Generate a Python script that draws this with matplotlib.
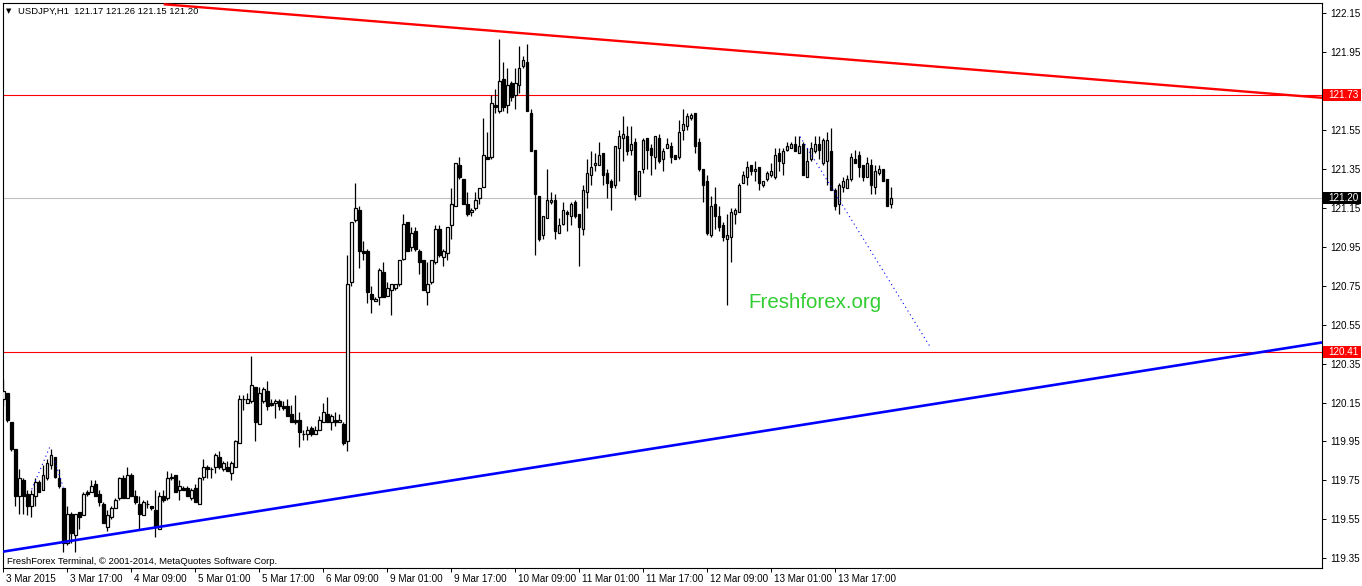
import matplotlib
matplotlib.use("Agg")
import matplotlib.pyplot as plt
import matplotlib.transforms as mtransforms
from matplotlib.patches import Rectangle
import numpy as np

# USDJPY H1 bars (open, high, low, close)
opens = [120.17, 120.20, 120.05, 119.91, 119.67, 119.75, 119.68, 119.62, 119.67, 119.74,
         119.70, 119.76, 119.83, 119.87, 119.76, 119.71, 119.43, 119.58, 119.47, 119.59,
         119.57, 119.69, 119.69, 119.73, 119.68, 119.63, 119.51, 119.56, 119.61, 119.66,
         119.76, 119.66, 119.78, 119.67, 119.63, 119.57, 119.63, 119.62, 119.60, 119.50,
         119.67, 119.66, 119.76, 119.78, 119.70, 119.71, 119.71, 119.66, 119.71, 119.63,
         119.77, 119.82, 119.81, 119.82, 119.87, 119.81, 119.82, 119.79, 119.82, 119.94,
         120.17, 120.15, 120.16, 120.23, 120.04, 120.16, 120.21, 120.15, 120.15, 120.16,
         120.13, 120.13, 120.09, 120.06, 120.06, 119.99, 119.99, 120.02, 119.99, 120.01,
         120.05, 120.09, 120.05, 120.06, 120.05, 120.04, 119.95, 120.77, 121.09, 121.14,
         120.93, 120.93, 120.71, 120.67, 120.69, 120.82, 120.70, 120.73, 120.74, 120.76,
         120.89, 121.08, 120.95, 121.03, 120.93, 120.88, 120.72, 120.77, 120.87, 121.04,
         120.90, 120.92, 121.06, 121.16, 121.37, 121.30, 121.17, 121.13, 121.15, 121.20,
         121.26, 121.41, 121.41, 121.68, 121.65, 121.81, 121.68, 121.79, 121.73, 121.78,
         121.88, 121.90, 121.64, 121.45, 121.21, 121.01, 121.10, 121.18, 121.19, 121.02,
         121.07, 121.13, 121.11, 121.18, 121.12, 121.04, 121.23, 121.32, 121.37, 121.37,
         121.43, 121.33, 121.29, 121.27, 121.46, 121.51, 121.52, 121.45, 121.49, 121.21,
         121.35, 121.51, 121.46, 121.41, 121.51, 121.40, 121.46, 121.47, 121.42, 121.41,
         121.55, 121.57, 121.61, 121.64, 121.49, 121.35, 121.29, 121.01, 121.17, 121.11,
         121.06, 120.99, 121.00, 121.12, 121.13, 121.28, 121.31, 121.37, 121.34, 121.36,
         121.27, 121.30, 121.32, 121.31, 121.43, 121.38, 121.45, 121.46, 121.48, 121.43,
         121.48, 121.31, 121.40, 121.44, 121.48, 121.38, 121.39, 121.44, 121.24, 121.17,
         121.26, 121.25, 121.30, 121.40, 121.42, 121.37, 121.31, 121.37, 121.26, 121.33,
         121.35, 121.30, 121.17]
highs = [120.27, 120.20, 120.05, 119.91, 119.81, 119.76, 119.70, 119.70, 119.76, 119.75,
         119.83, 119.86, 119.91, 119.87, 119.81, 119.71, 119.62, 119.59, 119.58, 119.59,
         119.69, 119.70, 119.75, 119.75, 119.70, 119.64, 119.60, 119.62, 119.66, 119.77,
         119.78, 119.82, 119.79, 119.70, 119.67, 119.65, 119.65, 119.62, 119.70, 119.69,
         119.70, 119.80, 119.79, 119.78, 119.75, 119.72, 119.72, 119.71, 119.73, 119.77,
         119.86, 119.83, 119.82, 119.89, 119.90, 119.85, 119.85, 119.85, 119.96, 120.19,
         120.19, 120.20, 120.39, 120.23, 120.23, 120.23, 120.26, 120.17, 120.17, 120.17,
         120.16, 120.17, 120.14, 120.19, 120.10, 120.01, 120.03, 120.03, 120.03, 120.08,
         120.15, 120.18, 120.09, 120.10, 120.09, 120.05, 120.91, 121.08, 121.28, 121.16,
         120.98, 120.94, 120.75, 120.69, 120.84, 120.87, 120.77, 120.76, 120.76, 120.88,
         121.12, 121.08, 121.05, 121.05, 120.94, 120.88, 120.87, 120.88, 121.06, 121.06,
         120.94, 121.05, 121.25, 121.38, 121.41, 121.30, 121.23, 121.15, 121.23, 121.25,
         121.61, 121.54, 121.73, 121.76, 122.02, 121.90, 121.87, 121.80, 121.87, 121.98,
         121.93, 121.99, 121.66, 121.45, 121.21, 121.11, 121.35, 121.23, 121.22, 121.10,
         121.18, 121.14, 121.18, 121.19, 121.12, 121.27, 121.40, 121.44, 121.43, 121.49,
         121.43, 121.35, 121.30, 121.47, 121.55, 121.62, 121.57, 121.57, 121.51, 121.34,
         121.51, 121.51, 121.48, 121.52, 121.53, 121.46, 121.51, 121.49, 121.42, 121.60,
         121.66, 121.64, 121.64, 121.64, 121.51, 121.35, 121.32, 121.21, 121.26, 121.16,
         121.08, 121.12, 121.15, 121.15, 121.28, 121.34, 121.39, 121.37, 121.39, 121.36,
         121.29, 121.34, 121.38, 121.46, 121.46, 121.46, 121.49, 121.49, 121.52, 121.52,
         121.49, 121.46, 121.49, 121.52, 121.52, 121.51, 121.54, 121.56, 121.25, 121.28,
         121.31, 121.32, 121.43, 121.45, 121.44, 121.37, 121.41, 121.40, 121.37, 121.37,
         121.35, 121.30, 121.26]
lows = [120.13, 120.05, 119.90, 119.62, 119.58, 119.58, 119.57, 119.56, 119.62, 119.69,
        119.70, 119.75, 119.81, 119.76, 119.71, 119.38, 119.42, 119.43, 119.38, 119.50,
        119.57, 119.67, 119.69, 119.67, 119.62, 119.53, 119.49, 119.55, 119.61, 119.65,
        119.66, 119.66, 119.67, 119.63, 119.50, 119.57, 119.61, 119.60, 119.46, 119.50,
        119.64, 119.65, 119.75, 119.69, 119.65, 119.70, 119.67, 119.65, 119.64, 119.63,
        119.75, 119.76, 119.76, 119.79, 119.81, 119.80, 119.80, 119.75, 119.82, 119.94,
        120.11, 120.15, 120.15, 119.95, 120.04, 120.15, 120.11, 120.13, 120.07, 120.11,
        120.11, 120.08, 120.05, 120.04, 119.92, 119.96, 119.96, 119.98, 119.99, 120.01,
        120.05, 120.05, 120.01, 120.03, 120.05, 119.93, 119.90, 120.75, 121.08, 120.84,
        120.88, 120.66, 120.61, 120.67, 120.65, 120.69, 120.70, 120.60, 120.73, 120.75,
        120.88, 120.93, 120.93, 120.93, 120.81, 120.73, 120.65, 120.76, 120.86, 120.90,
        120.85, 120.88, 120.99, 121.16, 121.30, 121.17, 121.11, 121.11, 121.14, 121.17,
        121.26, 121.40, 121.40, 121.64, 121.64, 121.65, 121.64, 121.70, 121.66, 121.74,
        121.87, 121.65, 121.44, 120.91, 120.98, 120.99, 121.10, 121.17, 120.99, 121.02,
        121.06, 121.03, 121.06, 121.10, 120.85, 121.01, 121.15, 121.27, 121.34, 121.37,
        121.27, 121.20, 121.14, 121.25, 121.29, 121.39, 121.42, 121.42, 121.19, 121.21,
        121.33, 121.35, 121.32, 121.35, 121.38, 121.34, 121.46, 121.38, 121.40, 121.40,
        121.50, 121.55, 121.60, 121.43, 121.34, 121.18, 121.01, 121.00, 121.04, 121.03,
        120.98, 120.65, 120.87, 121.07, 121.13, 121.28, 121.27, 121.32, 121.29, 121.24,
        121.26, 121.29, 121.31, 121.30, 121.34, 121.32, 121.44, 121.46, 121.44, 121.43,
        121.32, 121.31, 121.39, 121.43, 121.40, 121.37, 121.27, 121.24, 121.14, 121.12,
        121.23, 121.25, 121.29, 121.38, 121.31, 121.29, 121.31, 121.22, 121.22, 121.32,
        121.29, 121.16, 121.15]
closes = [120.21, 120.06, 119.91, 119.67, 119.76, 119.67, 119.62, 119.68, 119.74, 119.69,
          119.78, 119.84, 119.88, 119.77, 119.72, 119.43, 119.58, 119.48, 119.58, 119.56,
          119.68, 119.68, 119.72, 119.67, 119.64, 119.53, 119.57, 119.61, 119.65, 119.76,
          119.66, 119.78, 119.67, 119.64, 119.58, 119.64, 119.63, 119.61, 119.51, 119.67,
          119.65, 119.76, 119.77, 119.69, 119.72, 119.70, 119.67, 119.70, 119.64, 119.76,
          119.82, 119.81, 119.81, 119.88, 119.82, 119.84, 119.80, 119.84, 119.95, 120.17,
          120.17, 120.17, 120.24, 120.05, 120.20, 120.22, 120.13, 120.14, 120.16, 120.13,
          120.12, 120.08, 120.05, 120.05, 120.00, 119.99, 120.01, 119.99, 120.01, 120.06,
          120.10, 120.05, 120.08, 120.05, 120.06, 119.94, 120.76, 121.08, 121.15, 120.93,
          120.92, 120.72, 120.68, 120.68, 120.83, 120.69, 120.74, 120.76, 120.76, 120.88,
          121.07, 120.93, 121.02, 120.94, 120.87, 120.73, 120.76, 120.88, 121.04, 120.91,
          120.93, 121.05, 121.17, 121.38, 121.31, 121.17, 121.12, 121.14, 121.19, 121.25,
          121.42, 121.40, 121.69, 121.67, 121.80, 121.67, 121.78, 121.72, 121.79, 121.87,
          121.91, 121.65, 121.44, 121.22, 120.99, 121.11, 121.19, 121.19, 121.03, 121.06,
          121.14, 121.12, 121.17, 121.11, 121.05, 121.24, 121.33, 121.36, 121.38, 121.42,
          121.32, 121.28, 121.26, 121.47, 121.52, 121.53, 121.44, 121.48, 121.22, 121.34,
          121.50, 121.45, 121.42, 121.52, 121.39, 121.44, 121.48, 121.41, 121.40, 121.54,
          121.58, 121.62, 121.63, 121.47, 121.35, 121.27, 121.02, 121.16, 121.11, 121.05,
          121.00, 121.01, 121.13, 121.14, 121.27, 121.32, 121.36, 121.34, 121.35, 121.28,
          121.29, 121.33, 121.34, 121.42, 121.39, 121.44, 121.47, 121.48, 121.44, 121.47,
          121.32, 121.39, 121.46, 121.48, 121.45, 121.50, 121.50, 121.24, 121.16, 121.27,
          121.29, 121.30, 121.41, 121.38, 121.36, 121.31, 121.38, 121.27, 121.34, 121.35,
          121.29, 121.16, 121.20]

price_ticks = [119.35, 119.55, 119.75, 119.95, 120.15, 120.35, 120.55, 120.75,
               120.95, 121.15, 121.35, 121.55, 121.75, 121.95, 122.15]
hidden_tick = 121.75  # sits under the 121.73 level box
time_tick_bars = [0, 16, 32, 48, 64, 80, 96, 112, 128, 144, 160, 176, 192, 208]
time_tick_labels = ["3 Mar 2015", "3 Mar 17:00", "4 Mar 09:00", "5 Mar 01:00",
                    "5 Mar 17:00", "6 Mar 09:00", "9 Mar 01:00", "9 Mar 17:00",
                    "10 Mar 09:00", "11 Mar 01:00", "11 Mar 17:00", "12 Mar 09:00",
                    "13 Mar 01:00", "13 Mar 17:00"]

level_prices = [121.73, 120.41]
bid_price = 121.20
# trend lines as (bar, price) end points
red_trend = ([40.4, 329.7], [122.196, 121.716])
blue_trend = ([-0.1, 329.7], [119.384, 120.459])
dotted_trend = ([199.2, 231.7], [121.516, 120.437])
small_dots_a = ([7.1, 11.7], [119.704, 119.925])
small_dots_b = ([12.9, 15.0], [119.848, 119.714])

plt.rcParams['font.family'] = ['Liberation Sans', 'DejaVu Sans']
FS = 7.1
FS_SMALL = 6.8

W, H = 1362, 586
fig = plt.figure(figsize=(W / 100, H / 100), dpi=100)
ax = fig.add_axes([3 / W, 18 / H, 1319 / W, 565 / H])

o = np.array(opens); h = np.array(highs); l = np.array(lows); c = np.array(closes)
x = np.arange(len(o))
up = c >= o

# horizontal levels and bid line behind the candles
for p in level_prices:
    ax.axhline(p, color='red', lw=0.8, zorder=1)
ax.axhline(bid_price, color='#c0c0c0', lw=0.8, zorder=1)

ax.vlines(x, l, h, color='black', lw=0.9, zorder=2)
ax.bar(x, np.abs(c - o), bottom=np.minimum(o, c), width=0.6,
       color=np.where(up, 'white', 'black'), edgecolor='black', linewidth=0.9, zorder=3)

ax.plot(*red_trend, color='red', lw=1.7, zorder=4)
ax.plot(*blue_trend, color='blue', lw=1.9, zorder=4)
ax.plot(*dotted_trend, color='blue', lw=0.8, ls=(0, (1, 3)), zorder=4)
ax.plot(*small_dots_a, color='blue', lw=0.8, ls=(0, (1, 3)), zorder=4)
ax.plot(*small_dots_b, color='blue', lw=0.8, ls=(0, (1, 3)), zorder=4)

ax.set_xlim(-0.075, 329.675)
ax.set_ylim(119.30, 122.203)

ax.yaxis.tick_right()
ax.set_yticks(price_ticks)
ax.set_yticklabels(["" if p == hidden_tick else f"{p:.2f}" for p in price_ticks])
ax.set_xticks(time_tick_bars)
ax.set_xticklabels(time_tick_labels, ha='left')
ax.tick_params(axis='both', direction='out', length=3, width=0.7, labelsize=FS, colors='black')
ax.tick_params(axis='y', pad=3)
ax.tick_params(axis='x', pad=1.5)
offset = mtransforms.ScaledTranslation(2.5 / 100, 0, fig.dpi_scale_trans)
for lab in ax.get_xticklabels():
    lab.set_transform(lab.get_transform() + offset)
for s in ax.spines.values():
    s.set_linewidth(0.8)
    s.set_color('black')

# price boxes on the right scale
ytr = ax.get_yaxis_transform()
box_h = 12 / 194.6
for p, col in [(level_prices[0], 'red'), (bid_price, 'black'), (level_prices[1], 'red')]:
    ax.add_patch(Rectangle((1.0008, p - box_h / 2), 38 / 1319, box_h, transform=ytr,
                           facecolor=col, edgecolor='none', clip_on=False, zorder=6))
    ax.text(1 + 6 / 1319, p, f"{p:.2f}", transform=ytr, color='white', fontsize=FS,
            va='center', ha='left', clip_on=False, zorder=7)

# header, watermark, footer
fig.text(9 / W, 1 - 11 / H, "\u25bc", fontsize=5, ha='center', va='center',
         family='DejaVu Sans')
fig.text(18 / W, 1 - 11 / H, "USDJPY,H1  121.17 121.26 121.15 121.20",
         fontsize=FS_SMALL, ha='left', va='center')
fig.text(748 / W, 1 - 302 / H, "Freshforex.org", fontsize=14.8, color='#32cd32',
         ha='left', va='center')
fig.text(7 / W, 1 - 561 / H, "FreshForex Terminal, \u00a9 2001-2014, MetaQuotes Software Corp.",
         fontsize=FS_SMALL, ha='left', va='center')

fig.savefig("out.png", dpi=100, facecolor='white')
